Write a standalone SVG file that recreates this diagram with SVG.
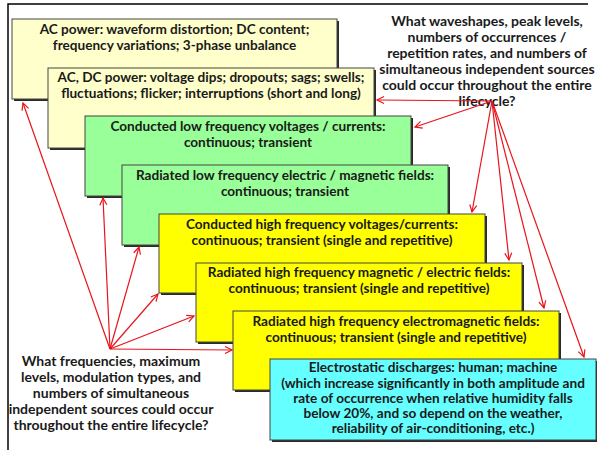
<svg xmlns="http://www.w3.org/2000/svg" width="597" height="450" viewBox="0 0 597 450">
<defs>
<style>
.t{font-family:Lato,"Open Sans","Liberation Sans",sans-serif;font-weight:bold;font-size:13.6px;fill:#1a1a1a;text-anchor:middle}
.q{font-size:14px}
.sh{fill:#2a2a2a}
.b{stroke:#444;stroke-width:1}
.cream{fill:#FFFFCC}
.green{fill:#99FF99}
.yellow{fill:#FFFF00}
.cyan{fill:#66FFFF}
.a{stroke:#E8141B;stroke-width:1.2;fill:none;marker-end:url(#ah)}
</style>
<marker id="ah" markerWidth="10" markerHeight="10" refX="8" refY="5" orient="auto" markerUnits="userSpaceOnUse">
<path d="M1,1.5 L8,5 L1,8.5" fill="none" stroke="#E8141B" stroke-width="1.2"/>
</marker>
</defs>
<rect width="597" height="450" fill="#fff"/>
<path d="M588,4 H8 V450" fill="none" stroke="#000" stroke-width="1.5"/>

<g id="box1">
<rect class="sh" x="14" y="21" width="325" height="80"/>
<rect class="b cream" x="12" y="19" width="325" height="80"/>
<text class="t" x="174.5" y="34">AC power: waveform distortion; DC content;</text>
<text class="t" x="174.5" y="50">frequency variations; 3-phase unbalance</text>
</g>
<g id="box2">
<rect class="sh" x="50" y="70" width="326" height="80"/>
<rect class="b cream" x="48" y="68" width="326" height="80"/>
<text class="t" x="211" y="82">AC, DC power: voltage dips; dropouts; sags; swells;</text>
<text class="t" x="211" y="98">fluctuations; flicker; interruptions (short and long)</text>
</g>
<g id="box3">
<rect class="sh" x="87" y="118" width="326" height="80"/>
<rect class="b green" x="85" y="116" width="326" height="80"/>
<text class="t" x="248" y="131">Conducted low frequency voltages / currents:</text>
<text class="t" x="248" y="147">continuous; transient</text>
</g>
<g id="box4">
<rect class="sh" x="124" y="167" width="326" height="80"/>
<rect class="b green" x="122" y="165" width="326" height="80"/>
<text class="t" x="285" y="180">Radiated low frequency electric / magnetic fields:</text>
<text class="t" x="285" y="196">continuous; transient</text>
</g>
<g id="box5">
<rect class="sh" x="161" y="216" width="326" height="79"/>
<rect class="b yellow" x="159" y="214" width="326" height="79"/>
<text class="t" x="322" y="229">Conducted high frequency voltages/currents:</text>
<text class="t" x="322" y="245">continuous; transient (single and repetitive)</text>
</g>
<g id="box6">
<rect class="sh" x="198" y="265" width="326" height="79"/>
<rect class="b yellow" x="196" y="263" width="326" height="79"/>
<text class="t" x="359" y="277">Radiated high frequency magnetic / electric fields:</text>
<text class="t" x="359" y="293">continuous; transient (single and repetitive)</text>
</g>
<g id="box7">
<rect class="sh" x="235" y="313" width="326" height="79"/>
<rect class="b yellow" x="233" y="311" width="326" height="79"/>
<text class="t" x="396" y="326">Radiated high frequency electromagnetic fields:</text>
<text class="t" x="396" y="342">continuous; transient (single and repetitive)</text>
</g>
<g id="box8">
<rect class="sh" x="272" y="361" width="326" height="81"/>
<rect class="b cyan" x="270" y="359" width="326" height="81"/>
<text class="t" x="433" y="372">Electrostatic discharges: human; machine</text>
<text class="t" x="433" y="388">(which increase significantly in both amplitude and</text>
<text class="t" x="433" y="403">rate of occurrence when relative humidity falls</text>
<text class="t" x="433" y="418">below 20%, and so depend on the weather,</text>
<text class="t" x="433" y="433">reliability of air-conditioning, etc.)</text>
</g>
<g id="q-left">
<text class="t q" x="111" y="366">What frequencies, maximum</text>
<text class="t q" x="111" y="382">levels, modulation types, and</text>
<text class="t q" x="111" y="398">numbers of simultaneous</text>
<text class="t q" x="111" y="414">independent sources could occur</text>
<text class="t q" x="111" y="430">throughout the entire lifecycle?</text>
</g>
<g id="q-right">
<text class="t q" x="487" y="26">What waveshapes, peak levels,</text>
<text class="t q" x="487" y="42">numbers of occurrences /</text>
<text class="t q" x="487" y="58">repetition rates, and numbers of</text>
<text class="t q" x="487" y="74">simultaneous independent sources</text>
<text class="t q" x="487" y="90">could occur throughout the entire</text>
<text class="t q" x="487" y="106">lifecycle?</text>
</g>
<g id="connectors">
<line class="a" x1="110" y1="349" x2="23" y2="103"/>
<line class="a" x1="110" y1="349" x2="103" y2="198"/>
<line class="a" x1="110" y1="349" x2="139" y2="247"/>
<line class="a" x1="110" y1="349" x2="158" y2="294"/>
<line class="a" x1="110" y1="349" x2="194" y2="316"/>
<line class="a" x1="110" y1="349" x2="232" y2="350"/>
<line class="a" x1="492" y1="101" x2="377" y2="100"/>
<line class="a" x1="492" y1="101" x2="415" y2="127"/>
<line class="a" x1="492" y1="101" x2="472" y2="212"/>
<line class="a" x1="492" y1="101" x2="509" y2="260"/>
<line class="a" x1="492" y1="101" x2="544" y2="308"/>
<line class="a" x1="492" y1="101" x2="584" y2="357"/>
</g>
</svg>
